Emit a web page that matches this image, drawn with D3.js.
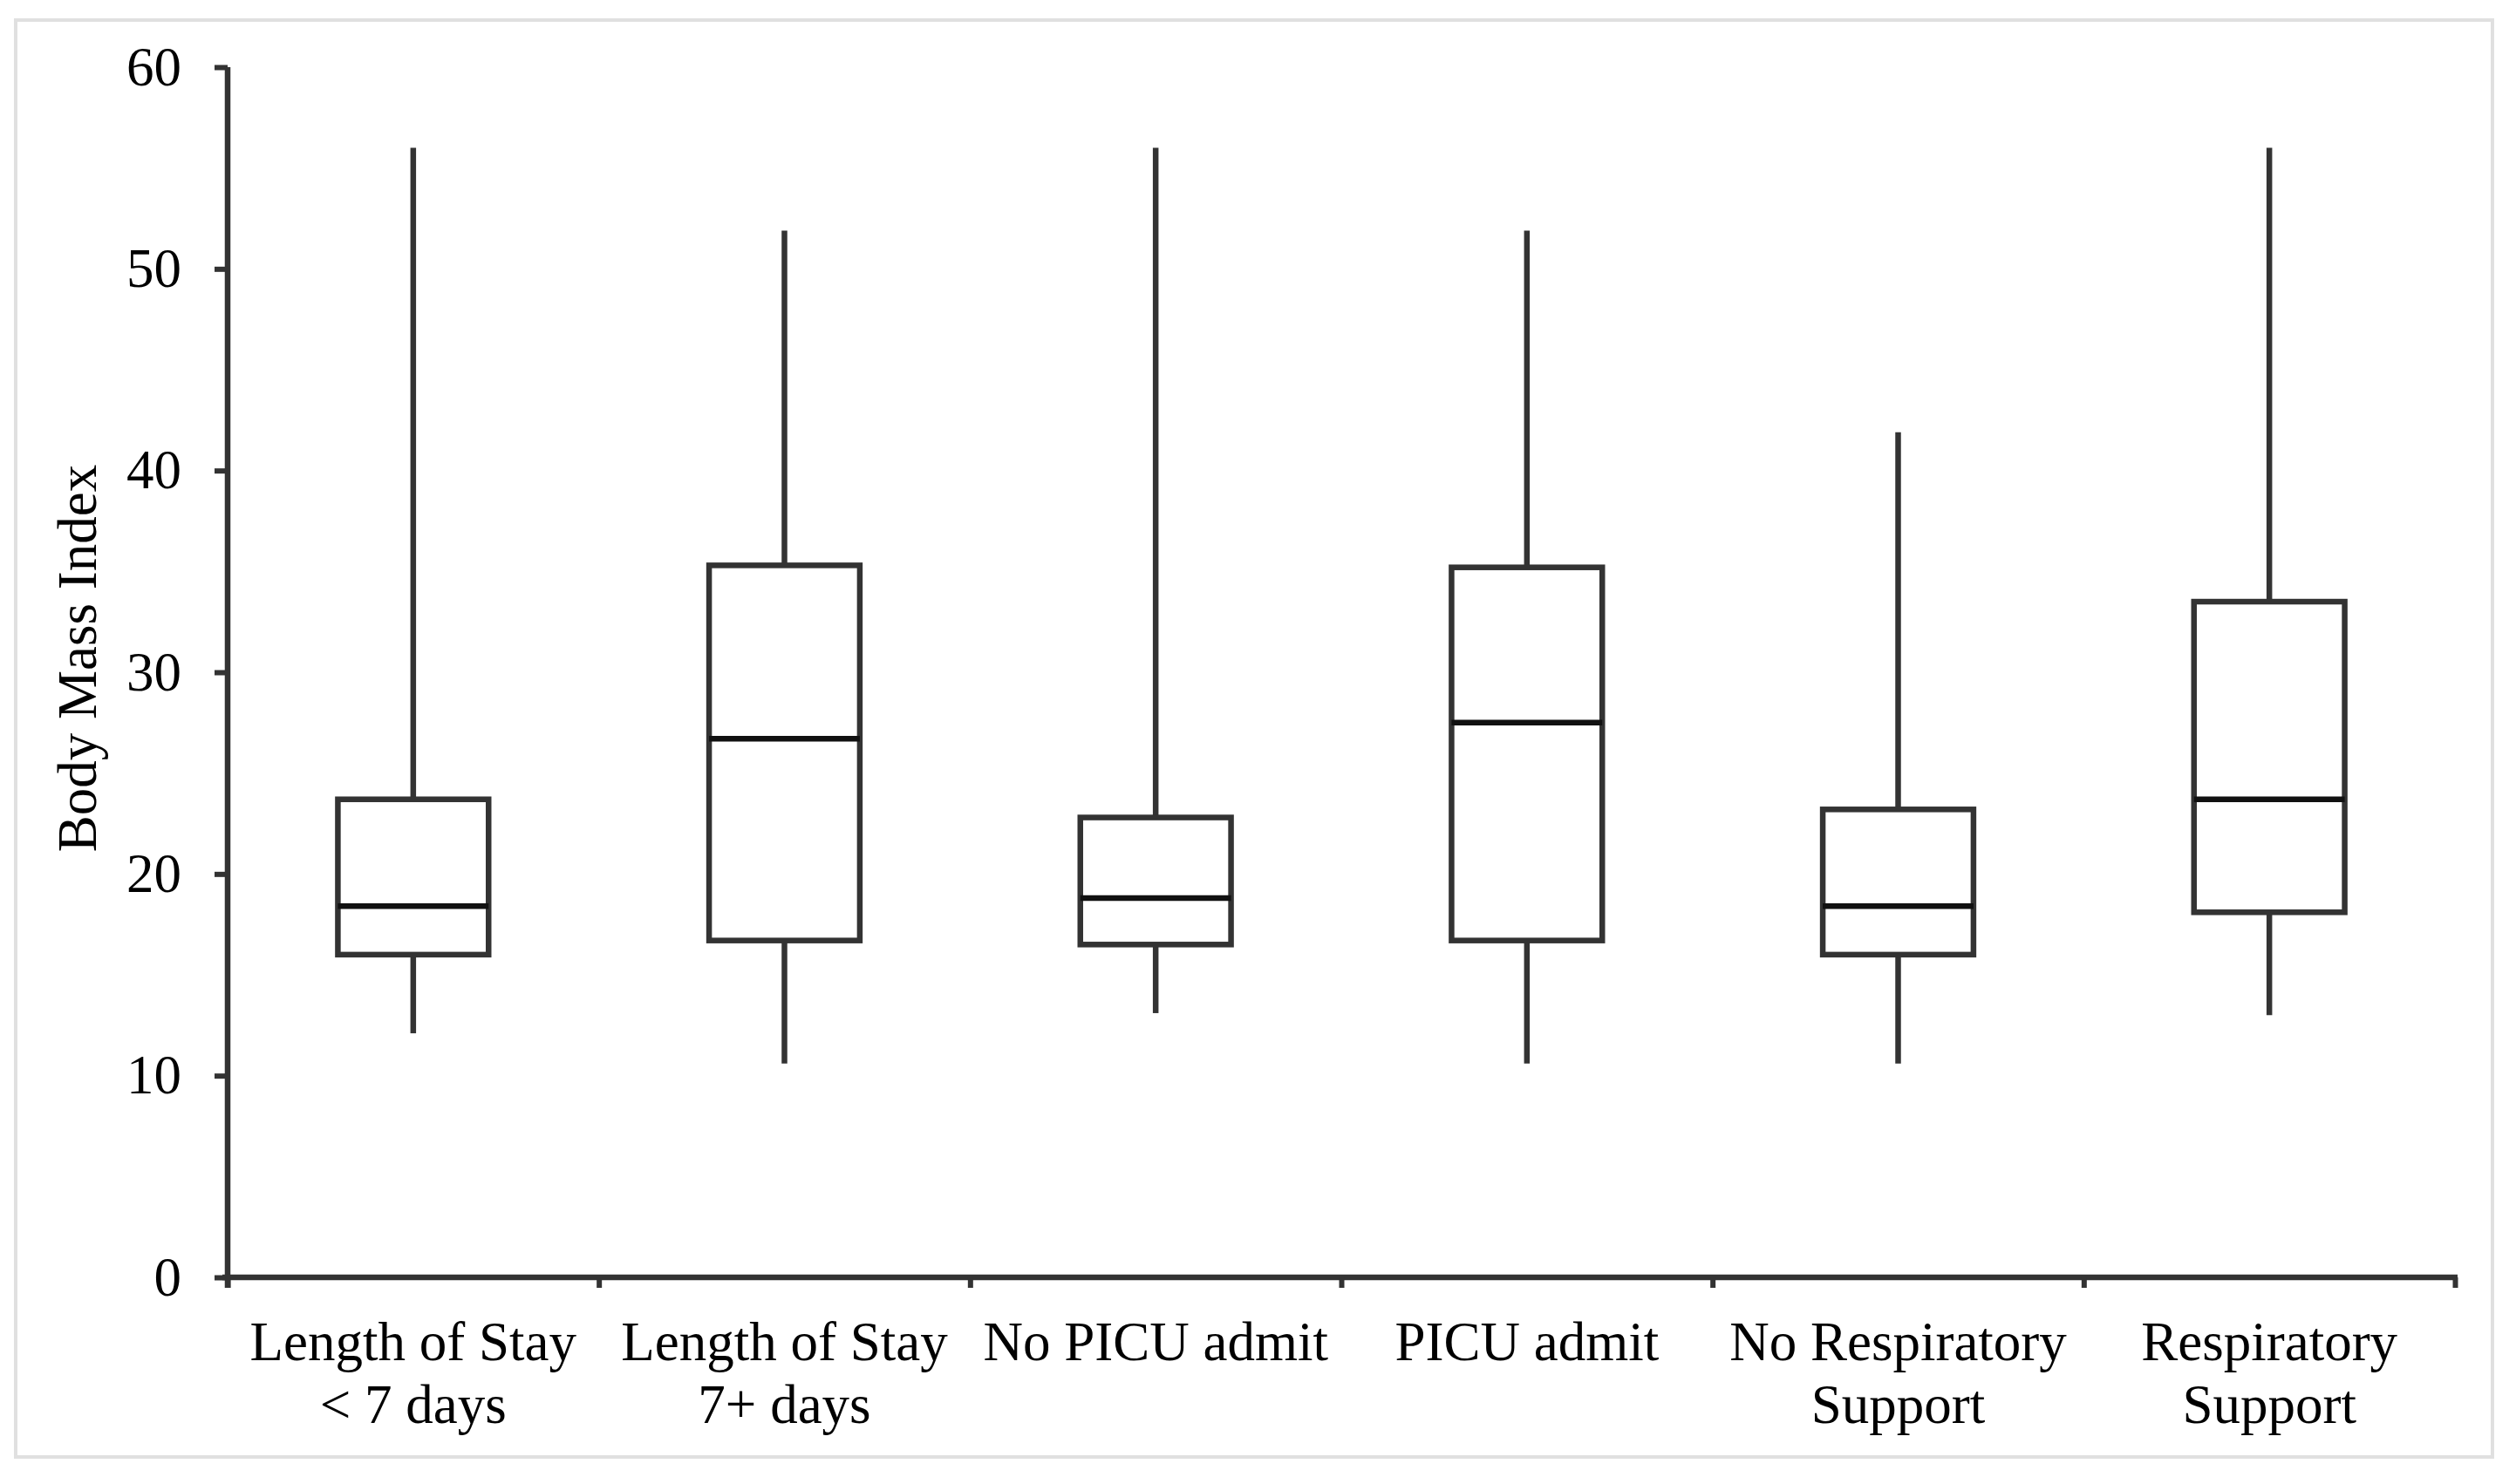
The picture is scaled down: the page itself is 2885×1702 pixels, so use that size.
<!DOCTYPE html>
<html>
<head>
<meta charset="utf-8">
<script src="https://cdn.jsdelivr.net/npm/d3@7"></script>
<style>
  html, body { margin: 0; padding: 0; background: #fff; }
  svg { display: block; }
  text { font-family: "Liberation Serif", "Times New Roman", serif; fill: #000; }
</style>
</head>
<body>
<svg id="chart" width="2885" height="1702"></svg>
<script>
// ---- data ----
const categories = [
  ["Length of Stay", "< 7 days"],
  ["Length of Stay", "7+ days"],
  ["No PICU admit"],
  ["PICU admit"],
  ["No Respiratory", "Support"],
  ["Respiratory", "Support"]
];
const whiskerMin = [12.1, 10.6, 13.1, 10.6, 10.6, 13.0];
const q1Values   = [16.0, 16.7, 16.5, 16.7, 16.0, 18.1];
const medians    = [18.4, 26.7, 18.8, 27.5, 18.4, 23.7];
const q3Values   = [23.7, 35.3, 22.8, 35.2, 23.2, 33.5];
const whiskerMax = [56.0, 51.9, 56.0, 51.9, 41.9, 56.0];
const yTicks = [0, 10, 20, 30, 40, 50, 60];
const yTitle = "Body Mass Index";

// ---- layout ----
const svg = d3.select("#chart");
const pLeft = 261, pRight = 2815, pTop = 77, pBottom = 1465;
const lineColor = "#333333";
const fontSize = 63;

// frame
svg.append("rect")
  .attr("x", 18).attr("y", 23).attr("width", 2840).attr("height", 1648)
  .attr("fill", "none").attr("stroke", "#e0e0e0").attr("stroke-width", 4);

const keys = categories.map((c, i) => i);
const x = d3.scaleBand().domain(keys).range([pLeft, pRight]).paddingInner(0).paddingOuter(0);
const y = d3.scaleLinear().domain([0, 60]).range([pBottom, pTop]);
const xb = d3.scaleLinear().domain([0, categories.length]).range([pLeft, pRight]);

// y axis
const yAxis = svg.append("g")
  .attr("transform", `translate(${pLeft},0)`)
  .call(d3.axisLeft(y).tickValues(yTicks).tickSize(15).tickSizeOuter(0).tickPadding(38));
yAxis.select(".domain").attr("stroke", lineColor).attr("stroke-width", 6.5)
  .attr("d", `M0,${pTop}V${pBottom + 12}`);
yAxis.selectAll(".tick line").attr("stroke", lineColor).attr("stroke-width", 6);
yAxis.selectAll(".tick text")
  .attr("font-family", "Liberation Serif").attr("font-size", fontSize).attr("fill", "#000");

// x axis (boundary ticks)
const xAxis = svg.append("g")
  .attr("transform", `translate(0,${pBottom})`)
  .call(d3.axisBottom(xb).tickValues(d3.range(0, categories.length + 1)).tickSize(12).tickSizeOuter(0).tickFormat(""));
xAxis.select(".domain").attr("stroke", lineColor).attr("stroke-width", 6.5)
  .attr("d", `M${pLeft - 6},0H${pRight + 3}`);
xAxis.selectAll(".tick line").attr("stroke", lineColor).attr("stroke-width", 6);

// category labels
const labels = svg.append("g");
categories.forEach((lines, i) => {
  const cx = x(i) + x.bandwidth() / 2;
  const t = labels.append("text")
    .attr("x", cx)
    .attr("y", 1560)
    .attr("text-anchor", "middle")
    .attr("font-size", fontSize);
  lines.forEach((ln, j) => {
    t.append("tspan").attr("x", cx).attr("dy", j === 0 ? 0 : 72).text(ln);
  });
});

// y title
svg.append("text")
  .attr("transform", `translate(110,${(pTop + pBottom) / 2 - 16}) rotate(-90)`)
  .attr("text-anchor", "middle")
  .attr("font-size", fontSize)
  .text(yTitle);

// boxes
const boxW = x.bandwidth() * 0.406;
const g = svg.append("g");
keys.forEach(i => {
  const cx = x(i) + x.bandwidth() / 2;
  g.append("line").attr("x1", cx).attr("x2", cx)
    .attr("y1", y(whiskerMax[i])).attr("y2", y(q3Values[i]))
    .attr("stroke", lineColor).attr("stroke-width", 6.5);
  g.append("line").attr("x1", cx).attr("x2", cx)
    .attr("y1", y(q1Values[i])).attr("y2", y(whiskerMin[i]))
    .attr("stroke", lineColor).attr("stroke-width", 6.5);
  g.append("rect")
    .attr("x", cx - boxW / 2).attr("width", boxW)
    .attr("y", y(q3Values[i])).attr("height", y(q1Values[i]) - y(q3Values[i]))
    .attr("fill", "#fff").attr("stroke", lineColor).attr("stroke-width", 6.5);
  g.append("line")
    .attr("x1", cx - boxW / 2).attr("x2", cx + boxW / 2)
    .attr("y1", y(medians[i])).attr("y2", y(medians[i]))
    .attr("stroke", "#111").attr("stroke-width", 6.5);
});
</script>
</body>
</html>
